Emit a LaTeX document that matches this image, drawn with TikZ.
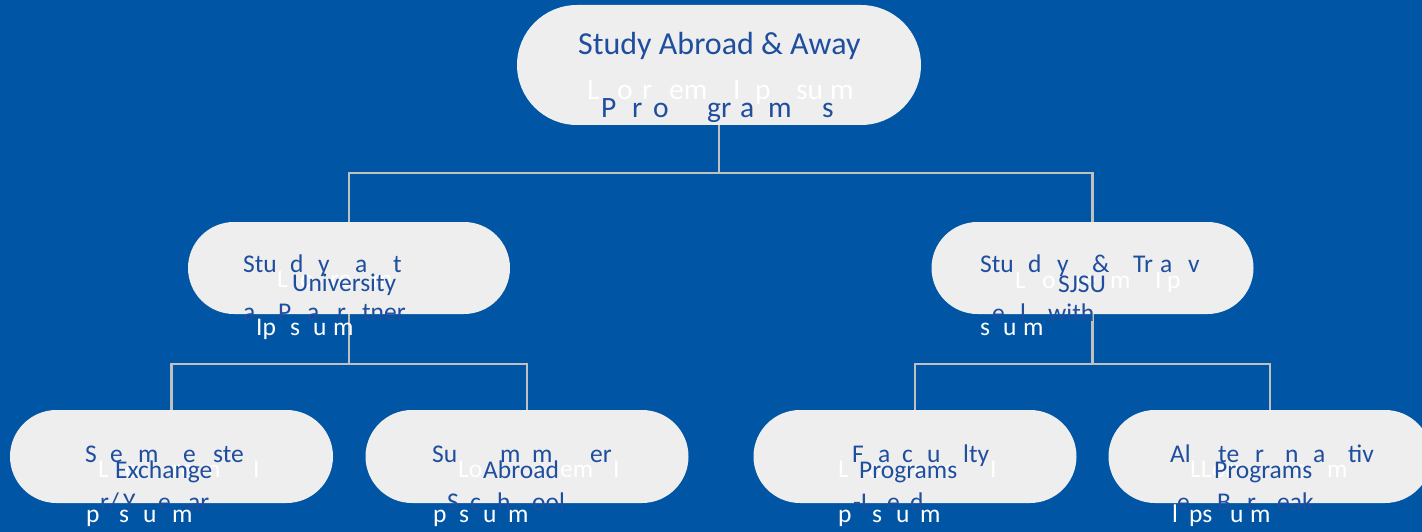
\documentclass[tikz,border=0pt]{standalone}
\usepackage{fontspec}
\setmainfont{Carlito}
\usetikzlibrary{shapes.misc}
\definecolor{bg}{HTML}{0055A4}
\definecolor{pillfill}{HTML}{EEEEEE}
\definecolor{txtblue}{HTML}{1F4E9E}
\definecolor{linegray}{HTML}{C0C0C0}
\begin{document}
\begin{tikzpicture}[x=1pt,y=-1pt,
  pill/.style={rounded rectangle, fill=pillfill, draw=none, inner sep=0pt},
  conn/.style={draw=linegray, line width=2.5pt},
  bt/.style={text=txtblue, inner sep=0pt, anchor=base west, font=\fontsize{25.5}{30}\selectfont},
  wt/.style={text=white, inner sep=0pt, anchor=base west, font=\fontsize{25.5}{30}\selectfont},
  btbig/.style={bt, font=\fontsize{32}{38}\selectfont},
  bttop/.style={bt, font=\fontsize{29.5}{35}\selectfont},
  wttop/.style={wt, font=\fontsize{29.5}{35}\selectfont}]
\useasboundingbox (0,0) rectangle (1422,532);
\fill[bg] (0,0) rectangle (1422,532);
\begin{scope}
\clip (0,0) rectangle (1422,532);
% pills
\node[pill, minimum width=404pt, minimum height=120pt] (top) at (719,65) {};
\node[pill, minimum width=322pt, minimum height=92pt] (ml) at (349,268) {};
\node[pill, minimum width=322pt, minimum height=92pt] (mr) at (1092.5,268) {};
\node[pill, minimum width=323pt, minimum height=93pt] (b1) at (171.5,456.5) {};
\node[pill, minimum width=323pt, minimum height=93pt] (b2) at (527,456.5) {};
\node[pill, minimum width=323pt, minimum height=93pt] (b3) at (915,456.5) {};
\node[pill, minimum width=323pt, minimum height=93pt] (b4) at (1270,456.5) {};
% connectors
\coordinate (j0) at (719,173);
\coordinate (j1) at (349,364);
\coordinate (j2) at (1092.5,364);
\draw[conn] (top.south) -- (j0);
\draw[conn] (ml.north) |- (j0) -| (mr.north);
\draw[conn] (ml.south) -- (j1);
\draw[conn] (b1.north) |- (j1) -| (b2.north);
\draw[conn] (mr.south) -- (j2);
\draw[conn] (b3.north) |- (j2) -| (b4.north);
% top texts
\node[btbig] (t0) at (578,55) {Study Abroad \& Away};
\node[wttop] (t1) at (587,100) {L};
\node[wttop] (t2) at (617,100) {o};
\node[wttop] (t3) at (642,100) {r};
\node[wttop] (t4) at (669,100) {em};
\node[wttop] (t5) at (733,100) {I};
\node[wttop] (t6) at (755,100) {p};
\node[wttop] (t7) at (796,100) {su};
\node[wttop] (t8) at (830,100) {m};
\node[bttop] (t9) at (601,118) {P};
\node[bttop] (t10) at (632,118) {r};
\node[bttop] (t11) at (653,118) {o};
\node[bttop] (t12) at (707,118) {gr};
\node[bttop] (t13) at (740,118) {a};
\node[bttop] (t14) at (768,118) {m};
\node[bttop] (t15) at (822,118) {s};
% mid-left texts
\node[wt] (l1) at (277,287) {L};
\node[wt] (l2) at (300,287) {o};
\node[wt] (l3) at (330,287) {re};
\node[wt] (l4) at (372,287) {m};
\node[bt] (l5) at (243,272) {Stu};
\node[bt] (l6) at (290,272) {d};
\node[bt] (l7) at (318,272) {y};
\node[bt] (l8) at (355,272) {a};
\node[bt] (l9) at (393,272) {t};
\node[bt] (l10) at (292,291) {University};
\node[bt] (l11) at (243,320) {a};
\node[bt] (l12) at (278,320) {P};
\node[bt] (l13) at (307,320) {a};
\node[bt] (l14) at (337,320) {r};
\node[bt] (l15) at (362,320) {tner};
\node[wt] (l16) at (256,335) {Ip};
\node[wt] (l17) at (290,335) {s};
\node[wt] (l18) at (313,335) {u};
\node[wt] (l19) at (333,335) {m};
% mid-right texts
\node[wt] (r1) at (1015,288) {L};
\node[wt] (r2) at (1042,288) {o};
\node[wt] (r3) at (1075,288) {re};
\node[wt] (r4) at (1110,288) {m};
\node[wt] (r5) at (1155,288) {I};
\node[wt] (r6) at (1167,288) {p};
\node[bt] (r7) at (980,272) {Stu};
\node[bt] (r8) at (1028,272) {d};
\node[bt] (r9) at (1057,272) {y};
\node[bt] (r10) at (1092,272) {\&};
\node[bt] (r11) at (1133,272) {Tr};
\node[bt] (r12) at (1160,272) {a};
\node[bt] (r13) at (1188,272) {v};
\node[bt] (r14) at (1058,292) {SJSU};
\node[bt] (r15) at (992,321) {e};
\node[bt] (r16) at (1020,321) {l};
\node[bt] (r17) at (1048,321) {with};
\node[wt] (r18) at (980,335) {s};
\node[wt] (r19) at (1003,335) {u};
\node[wt] (r20) at (1023,335) {m};
% bottom 1
\node[wt] (p1) at (98,477) {L};
\node[wt] (p2) at (125,477) {o};
\node[wt] (p3) at (172,477) {re};
\node[wt] (p4) at (200,477) {m};
\node[wt] (p5) at (253,477) {I};
\node[bt] (p6) at (85,462) {S};
\node[bt] (p7) at (110,462) {e};
\node[bt] (p8) at (138,462) {m};
\node[bt] (p9) at (183,462) {e};
\node[bt] (p10) at (213,462) {ste};
\node[bt] (p11) at (115,478) {Exchange};
\node[bt] (p12) at (100,510) {r/};
\node[bt] (p13) at (123,510) {Y};
\node[bt] (p14) at (158,510) {e};
\node[bt] (p15) at (188,510) {ar};
\node[wt] (p16) at (86,522) {p};
\node[wt] (p17) at (119,522) {s};
\node[wt] (p18) at (143,522) {u};
\node[wt] (p19) at (172,522) {m};
% bottom 2
\node[wt] (q1) at (458,477) {Lo};
\node[wt] (q2) at (535,477) {r};
\node[wt] (q3) at (560,477) {em};
\node[wt] (q4) at (613,477) {I};
\node[bt] (q5) at (432,462) {Su};
\node[bt] (q6) at (500,462) {m};
\node[bt] (q7) at (532,462) {m};
\node[bt] (q8) at (590,462) {er};
\node[bt] (q9) at (483,478) {Abroad};
\node[bt] (q10) at (447,510) {S};
\node[bt] (q11) at (470,510) {c};
\node[bt] (q12) at (497,510) {h};
\node[bt] (q13) at (532,510) {ool};
\node[wt] (q14) at (433,522) {p};
\node[wt] (q15) at (459,522) {s};
\node[wt] (q16) at (483,522) {u};
\node[wt] (q17) at (508,522) {m};
% bottom 3
\node[wt] (s1) at (838,477) {L};
\node[wt] (s2) at (868,477) {o};
\node[wt] (s3) at (905,477) {re};
\node[wt] (s4) at (935,477) {m};
\node[wt] (s5) at (990,477) {I};
\node[bt] (s6) at (852,462) {F};
\node[bt] (s7) at (878,462) {a};
\node[bt] (s8) at (902,462) {c};
\node[bt] (s9) at (927,462) {u};
\node[bt] (s10) at (963,462) {lty};
\node[bt] (s11) at (859,478) {Programs};
\node[bt] (s12) at (853,510) {-L};
\node[bt] (s13) at (887,510) {e};
\node[bt] (s14) at (910,510) {d};
\node[wt] (s15) at (838,522) {p};
\node[wt] (s16) at (872,522) {s};
\node[wt] (s17) at (896,522) {u};
\node[wt] (s18) at (920,522) {m};
% bottom 4
\node[wt] (u1) at (1190,477) {LL};
\node[wt] (u2) at (1212,477) {orr};
\node[wt] (u3) at (1295,477) {e};
\node[wt] (u4) at (1327,477) {m};
\node[bt] (u5) at (1170,462) {Al};
\node[bt] (u6) at (1218,462) {te};
\node[bt] (u7) at (1255,462) {r};
\node[bt] (u8) at (1285,462) {n};
\node[bt] (u9) at (1313,462) {a};
\node[bt] (u10) at (1348,462) {tiv};
\node[bt] (u11) at (1214,478) {Programs};
\node[bt] (u12) at (1177,510) {e};
\node[bt] (u13) at (1217,510) {B};
\node[bt] (u14) at (1247,510) {r};
\node[bt] (u15) at (1277,510) {eak};
\node[wt] (u16) at (1172,522) {l};
\node[wt] (u17) at (1189,522) {ps};
\node[wt] (u18) at (1230,522) {u};
\node[wt] (u19) at (1250,522) {m};
\end{scope}
\end{tikzpicture}
\end{document}
